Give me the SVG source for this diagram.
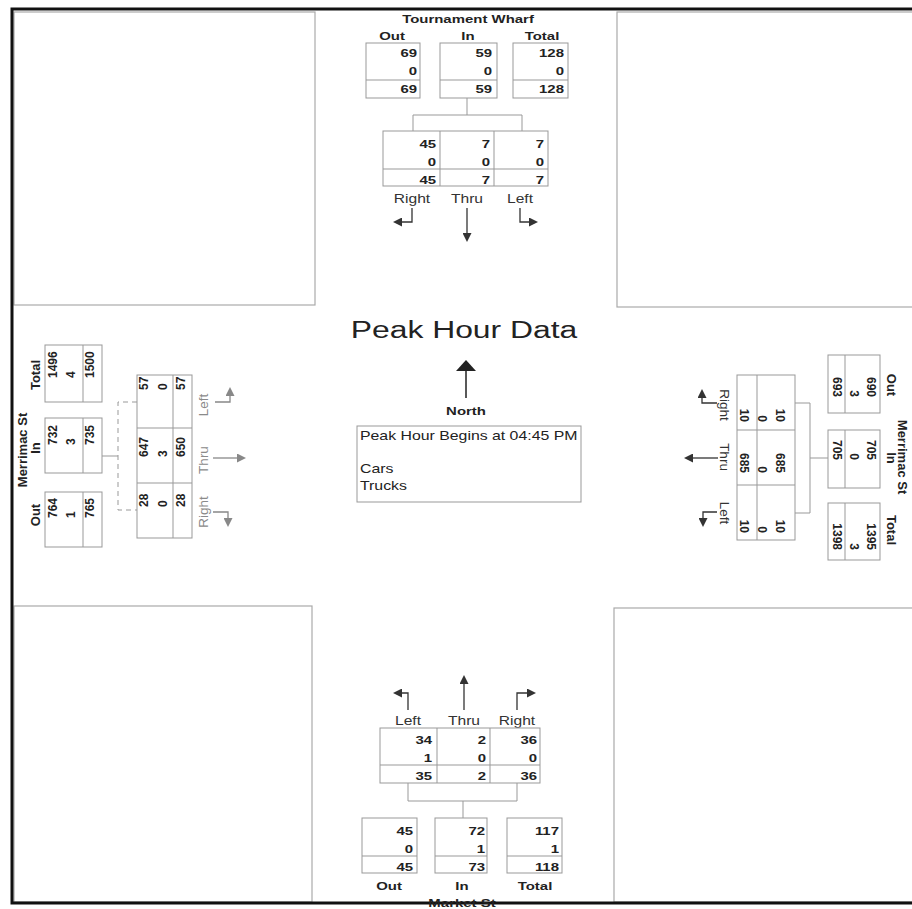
<svg xmlns="http://www.w3.org/2000/svg" width="912" height="909" viewBox="0 0 912 909">
<defs>
<style>
.frame{fill:none;stroke:#111;stroke-width:3}
.quad{fill:none;stroke:#aaa;stroke-width:1.2}
.box{fill:none;stroke:#999;stroke-width:1}
.conn{fill:none;stroke:#999;stroke-width:1}
.dash{stroke-dasharray:5 4}
.arr{fill:none;stroke:#333;stroke-width:1.3;marker-end:url(#ah)}
.arrg{fill:none;stroke:#888;stroke-width:1.3;marker-end:url(#ahg)}
text{font-family:"Liberation Sans",Arial,sans-serif;fill:#222}
.num{font-size:11.5px;font-weight:bold;text-anchor:end}
.vs{font-size:12px;font-weight:bold;text-anchor:start}
.ve{font-size:12px;font-weight:bold;text-anchor:end}
.hdr{font-size:11.5px;font-weight:bold;text-anchor:middle}
.vhdr{font-size:13px;font-weight:bold;text-anchor:middle}
.mv{font-size:12px;fill:#333;text-anchor:middle}
.vmv{font-size:13.5px;fill:#333;text-anchor:middle}
.vmvg{font-size:13.5px;fill:#8a8a8a;text-anchor:middle}
</style>
<marker id="ah" markerUnits="userSpaceOnUse" markerWidth="9" markerHeight="9" refX="7" refY="4.5" orient="auto"><path d="M0,0 L9,4.5 L0,9 z" fill="#333"/></marker>
<marker id="ahg" markerUnits="userSpaceOnUse" markerWidth="9" markerHeight="9" refX="7" refY="4.5" orient="auto"><path d="M0,0 L9,4.5 L0,9 z" fill="#888"/></marker>
</defs>
<rect width="912" height="909" fill="#fff"/>
<g id="frame">
<rect class="quad" x="14" y="12" width="301" height="293"/>
<rect class="quad" x="617" y="12" width="300" height="295"/>
<rect class="quad" x="14" y="606" width="298" height="296"/>
<rect class="quad" x="614" y="608" width="300" height="294"/>
<path class="frame" d="M914,9 H12 V903 H914"/>
</g>
<g id="connectors">
<path class="conn" d="M467,98 V115 M413,131 V115 H522 V131"/>
<path class="conn" d="M408,783 V801 H517 V783 M463,801 V818"/>
<path class="conn" d="M102,456 H118"/>
<path class="conn dash" d="M137,402 H118 V510 H137"/>
<path class="conn" d="M828,458 H810 M795,403 H810 V513 H795"/>
</g>
<g id="north">
<text class="hdr" transform="translate(468,23) scale(1.3,1)">Tournament Wharf</text>
<text class="hdr" transform="translate(392,40) scale(1.3,1)">Out</text>
<text class="hdr" transform="translate(468,40) scale(1.3,1)">In</text>
<text class="hdr" transform="translate(542,40) scale(1.3,1)">Total</text>
<rect class="box" x="366" y="43" width="54" height="55"/><line class="box" x1="366" y1="80" x2="420" y2="80"/>
<rect class="box" x="440" y="43" width="57" height="55"/><line class="box" x1="440" y1="80" x2="497" y2="80"/>
<rect class="box" x="513" y="43" width="55" height="55"/><line class="box" x1="513" y1="80" x2="568" y2="80"/>
<text class="num" transform="translate(417,57) scale(1.3,1)">69</text><text class="num" transform="translate(417,75) scale(1.3,1)">0</text><text class="num" transform="translate(417,93) scale(1.3,1)">69</text>
<text class="num" transform="translate(492,57) scale(1.3,1)">59</text><text class="num" transform="translate(492,75) scale(1.3,1)">0</text><text class="num" transform="translate(492,93) scale(1.3,1)">59</text>
<text class="num" transform="translate(564,57) scale(1.3,1)">128</text><text class="num" transform="translate(564,75) scale(1.3,1)">0</text><text class="num" transform="translate(564,93) scale(1.3,1)">128</text>
<rect class="box" x="383" y="131" width="165" height="55"/>
<path class="box" d="M440,131 V186 M494,131 V186 M383,169 H548"/>
<text class="num" transform="translate(436,148) scale(1.3,1)">45</text><text class="num" transform="translate(436,166) scale(1.3,1)">0</text><text class="num" transform="translate(436,184) scale(1.3,1)">45</text>
<text class="num" transform="translate(490,148) scale(1.3,1)">7</text><text class="num" transform="translate(490,166) scale(1.3,1)">0</text><text class="num" transform="translate(490,184) scale(1.3,1)">7</text>
<text class="num" transform="translate(544,148) scale(1.3,1)">7</text><text class="num" transform="translate(544,166) scale(1.3,1)">0</text><text class="num" transform="translate(544,184) scale(1.3,1)">7</text>
<text class="mv" transform="translate(412,203) scale(1.3,1)">Right</text>
<text class="mv" transform="translate(467,203) scale(1.3,1)">Thru</text>
<text class="mv" transform="translate(520,203) scale(1.3,1)">Left</text>
<path class="arr" d="M412,208 V222 H395"/>
<path class="arr" d="M467,208 V240"/>
<path class="arr" d="M520,208 V222 H536"/>
</g>
<g id="center">
<text transform="translate(464,338) scale(1.3,1)" font-size="24.5" text-anchor="middle">Peak Hour Data</text>
<line x1="466" y1="370" x2="466" y2="398" stroke="#222" stroke-width="1.5"/>
<polygon points="456,371 466,360 476,371" fill="#222"/>
<text class="hdr" transform="translate(466,415) scale(1.3,1)" font-size="10.5">North</text>
<rect class="box" x="357" y="426" width="224" height="76"/>
<text transform="translate(360,440) scale(1.3,1)" font-size="12.2">Peak Hour Begins at 04:45 PM</text>
<text transform="translate(360,473) scale(1.3,1)" font-size="12.2">Cars</text>
<text transform="translate(360,490) scale(1.3,1)" font-size="12.2">Trucks</text>
</g>
<g id="south">
<path class="arr" d="M408,710 V693 H395"/>
<path class="arr" d="M464,710 V677"/>
<path class="arr" d="M517,710 V693 H534"/>
<text class="mv" transform="translate(408,725) scale(1.3,1)">Left</text>
<text class="mv" transform="translate(464,725) scale(1.3,1)">Thru</text>
<text class="mv" transform="translate(517,725) scale(1.3,1)">Right</text>
<rect class="box" x="380" y="728" width="160" height="55"/>
<path class="box" d="M437,728 V783 M490,728 V783 M380,765 H540"/>
<text class="num" transform="translate(432,744) scale(1.3,1)">34</text><text class="num" transform="translate(432,762) scale(1.3,1)">1</text><text class="num" transform="translate(432,780) scale(1.3,1)">35</text>
<text class="num" transform="translate(486,744) scale(1.3,1)">2</text><text class="num" transform="translate(486,762) scale(1.3,1)">0</text><text class="num" transform="translate(486,780) scale(1.3,1)">2</text>
<text class="num" transform="translate(537,744) scale(1.3,1)">36</text><text class="num" transform="translate(537,762) scale(1.3,1)">0</text><text class="num" transform="translate(537,780) scale(1.3,1)">36</text>
<rect class="box" x="362" y="818" width="55" height="55"/><line class="box" x1="362" y1="856" x2="417" y2="856"/>
<rect class="box" x="435" y="818" width="52" height="55"/><line class="box" x1="435" y1="856" x2="487" y2="856"/>
<rect class="box" x="507" y="818" width="55" height="55"/><line class="box" x1="507" y1="856" x2="562" y2="856"/>
<text class="num" transform="translate(413,835) scale(1.3,1)">45</text><text class="num" transform="translate(413,853) scale(1.3,1)">0</text><text class="num" transform="translate(413,871) scale(1.3,1)">45</text>
<text class="num" transform="translate(485,835) scale(1.3,1)">72</text><text class="num" transform="translate(485,853) scale(1.3,1)">1</text><text class="num" transform="translate(485,871) scale(1.3,1)">73</text>
<text class="num" transform="translate(559,835) scale(1.3,1)">117</text><text class="num" transform="translate(559,853) scale(1.3,1)">1</text><text class="num" transform="translate(559,871) scale(1.3,1)">118</text>
<text class="hdr" transform="translate(389,890) scale(1.3,1)">Out</text>
<text class="hdr" transform="translate(462,890) scale(1.3,1)">In</text>
<text class="hdr" transform="translate(535,890) scale(1.3,1)">Total</text>
<text class="hdr" transform="translate(462,907) scale(1.3,1)">Market St</text>
</g>
<g id="west">
<text class="vhdr" transform="translate(27,450) rotate(-90)">Merrimac St</text>
<text class="vhdr" transform="translate(40,515) rotate(-90)">Out</text>
<text class="vhdr" transform="translate(40,448) rotate(-90)">In</text>
<text class="vhdr" transform="translate(40,375) rotate(-90)">Total</text>
<rect class="box" x="45" y="345" width="57" height="57"/><line class="box" x1="83" y1="345" x2="83" y2="402"/>
<rect class="box" x="45" y="418" width="57" height="55"/><line class="box" x1="83" y1="418" x2="83" y2="473"/>
<rect class="box" x="45" y="492" width="57" height="55"/><line class="box" x1="83" y1="492" x2="83" y2="547"/>
<text class="vs" transform="translate(57,378) rotate(-90)">1496</text><text class="vs" transform="translate(75,378) rotate(-90)">4</text><text class="vs" transform="translate(94,378) rotate(-90)">1500</text>
<text class="vs" transform="translate(57,445) rotate(-90)">732</text><text class="vs" transform="translate(75,445) rotate(-90)">3</text><text class="vs" transform="translate(94,445) rotate(-90)">735</text>
<text class="vs" transform="translate(57,518) rotate(-90)">764</text><text class="vs" transform="translate(75,518) rotate(-90)">1</text><text class="vs" transform="translate(94,518) rotate(-90)">765</text>
<rect class="box" x="137" y="375" width="55" height="163"/>
<path class="box" d="M137,428 H192 M137,483 H192 M173,375 V538"/>
<text class="vs" transform="translate(148,390) rotate(-90)">57</text><text class="vs" transform="translate(167,390) rotate(-90)">0</text><text class="vs" transform="translate(185,390) rotate(-90)">57</text>
<text class="vs" transform="translate(148,457) rotate(-90)">647</text><text class="vs" transform="translate(167,457) rotate(-90)">3</text><text class="vs" transform="translate(185,457) rotate(-90)">650</text>
<text class="vs" transform="translate(148,507) rotate(-90)">28</text><text class="vs" transform="translate(167,507) rotate(-90)">0</text><text class="vs" transform="translate(185,507) rotate(-90)">28</text>
<text class="vmvg" transform="translate(208,405) rotate(-90)">Left</text>
<text class="vmvg" transform="translate(208,460) rotate(-90)">Thru</text>
<text class="vmvg" transform="translate(208,512) rotate(-90)">Right</text>
<path class="arrg" d="M215,402 H230 V389"/>
<path class="arrg" d="M213,458 H244"/>
<path class="arrg" d="M213,512 H228 V525"/>
</g>
<g id="east">
<text class="vhdr" transform="translate(898,457) rotate(90)">Merrimac St</text>
<text class="vhdr" transform="translate(887,385) rotate(90)">Out</text>
<text class="vhdr" transform="translate(887,458) rotate(90)">In</text>
<text class="vhdr" transform="translate(887,530) rotate(90)">Total</text>
<rect class="box" x="828" y="355" width="52" height="58"/><line class="box" x1="845" y1="355" x2="845" y2="413"/>
<rect class="box" x="828" y="430" width="52" height="58"/><line class="box" x1="845" y1="430" x2="845" y2="488"/>
<rect class="box" x="828" y="503" width="52" height="57"/><line class="box" x1="845" y1="503" x2="845" y2="560"/>
<text class="ve" transform="translate(867,397) rotate(90)">690</text><text class="ve" transform="translate(850,397) rotate(90)">3</text><text class="ve" transform="translate(833,397) rotate(90)">693</text>
<text class="ve" transform="translate(867,460) rotate(90)">705</text><text class="ve" transform="translate(850,460) rotate(90)">0</text><text class="ve" transform="translate(833,460) rotate(90)">705</text>
<text class="ve" transform="translate(867,550) rotate(90)">1395</text><text class="ve" transform="translate(850,550) rotate(90)">3</text><text class="ve" transform="translate(833,550) rotate(90)">1398</text>
<rect class="box" x="737" y="375" width="58" height="165"/>
<path class="box" d="M737,430 H795 M737,485 H795 M757,375 V540"/>
<text class="ve" transform="translate(776,422) rotate(90)">10</text><text class="ve" transform="translate(758,422) rotate(90)">0</text><text class="ve" transform="translate(740,422) rotate(90)">10</text>
<text class="ve" transform="translate(776,473) rotate(90)">685</text><text class="ve" transform="translate(758,473) rotate(90)">0</text><text class="ve" transform="translate(740,473) rotate(90)">685</text>
<text class="ve" transform="translate(776,533) rotate(90)">10</text><text class="ve" transform="translate(758,533) rotate(90)">0</text><text class="ve" transform="translate(740,533) rotate(90)">10</text>
<text class="vmv" transform="translate(720,405) rotate(90)">Right</text>
<text class="vmv" transform="translate(720,457) rotate(90)">Thru</text>
<text class="vmv" transform="translate(720,513) rotate(90)">Left</text>
<path class="arr" d="M717,403 H702 V391"/>
<path class="arr" d="M718,458 H686"/>
<path class="arr" d="M717,512 H703 V525"/>
</g>
</svg>
